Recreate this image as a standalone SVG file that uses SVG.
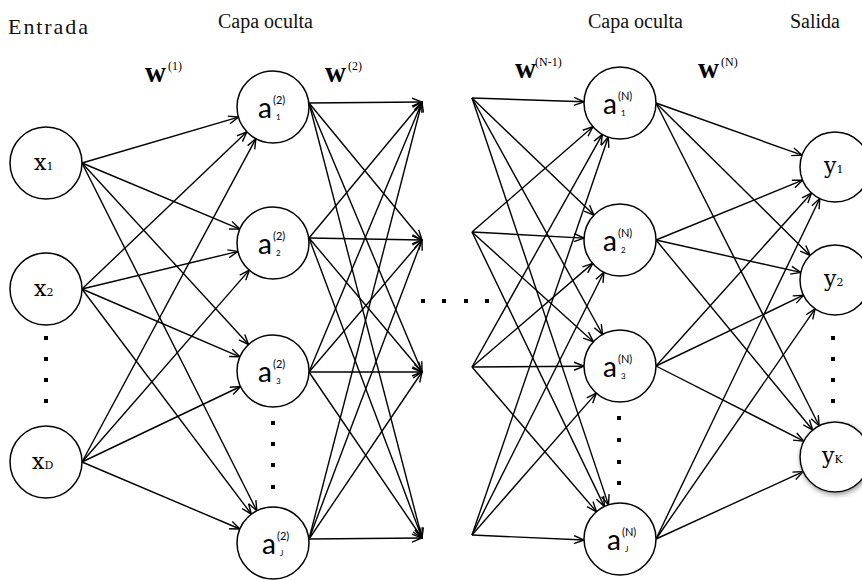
<svg xmlns="http://www.w3.org/2000/svg" width="862" height="580" viewBox="0 0 862 580">
<style>
.head{font-family:"Liberation Serif",serif;font-size:20px;fill:#111}
.node{fill:#fff;stroke:#000;stroke-width:1.5}
.xl{font-family:"DejaVu Serif","Liberation Serif",serif;font-size:22px;fill:#000}
.sub{font-size:11px}
.al{font-family:Lato,"Liberation Sans",sans-serif;font-size:28px;fill:#000}
.sup{font-family:Lato,"Liberation Sans",sans-serif;font-size:11px;fill:#000}
.sb{font-family:Lato,"Liberation Sans",sans-serif;font-size:8px;fill:#000}
.wl{font-family:"Liberation Serif",serif;font-weight:bold;font-size:29px;fill:#000}
.ws{font-family:"Liberation Serif",serif;font-size:12px;fill:#000}
.c line{stroke:#000;stroke-width:1.4;marker-end:url(#arr)}
.dot{fill:#000}
</style>
<defs>
<marker id="arr" viewBox="0 0 12 10" refX="11" refY="5" markerWidth="12" markerHeight="10" markerUnits="userSpaceOnUse" orient="auto">
<path d="M1,1 L11,5 L1,9" fill="none" stroke="#000" stroke-width="1.4"/>
</marker>
<filter id="sh" x="-30%" y="-30%" width="160%" height="160%">
<feDropShadow dx="1" dy="2" stdDeviation="2.5" flood-color="#777" flood-opacity="0.8"/>
</filter>
</defs>

<g id="headings">
<text class="head" x="8" y="34" style="font-size:22px" textLength="80">Entrada</text>
<text class="head" x="218" y="28">Capa oculta</text>
<text class="head" x="588" y="28">Capa oculta</text>
<text class="head" x="790" y="28">Salida</text>
</g>

<g id="weights">
<text class="wl" x="145" y="82">w</text><text class="ws" x="168" y="70">(1)</text>
<text class="wl" x="325" y="82">w</text><text class="ws" x="348" y="70">(2)</text>
<text class="wl" x="515" y="78">w</text><text class="ws" x="535" y="66">(N-1)</text>
<text class="wl" x="698" y="78">w</text><text class="ws" x="721" y="66">(N)</text>
</g>

<g class="c" id="connectors">
<line x1="82" y1="163" x2="238.5" y2="117.1"/>
<line x1="82" y1="163" x2="239.8" y2="229.1"/>
<line x1="82" y1="163" x2="248.6" y2="344.5"/>
<line x1="82" y1="163" x2="256.8" y2="510.8"/>
<line x1="82" y1="289" x2="246.9" y2="131.8"/>
<line x1="82" y1="289" x2="238.0" y2="251.4"/>
<line x1="82" y1="289" x2="239.9" y2="356.8"/>
<line x1="82" y1="289" x2="251.4" y2="514.2"/>
<line x1="82" y1="462" x2="255.9" y2="138.7"/>
<line x1="82" y1="462" x2="249.3" y2="270.1"/>
<line x1="82" y1="462" x2="240.5" y2="386.5"/>
<line x1="82" y1="462" x2="239.9" y2="529.0"/>
<line x1="309" y1="103" x2="422" y2="102"/>
<line x1="309" y1="103" x2="422" y2="240"/>
<line x1="309" y1="103" x2="422" y2="372"/>
<line x1="309" y1="103" x2="422" y2="538"/>
<line x1="309" y1="238" x2="422" y2="102"/>
<line x1="309" y1="238" x2="422" y2="240"/>
<line x1="309" y1="238" x2="422" y2="372"/>
<line x1="309" y1="238" x2="422" y2="538"/>
<line x1="309" y1="372" x2="422" y2="102"/>
<line x1="309" y1="372" x2="422" y2="240"/>
<line x1="309" y1="372" x2="422" y2="372"/>
<line x1="309" y1="372" x2="422" y2="538"/>
<line x1="309" y1="539" x2="422" y2="102"/>
<line x1="309" y1="539" x2="422" y2="240"/>
<line x1="309" y1="539" x2="422" y2="372"/>
<line x1="309" y1="539" x2="422" y2="538"/>
<line x1="472" y1="98" x2="584.0" y2="101.8"/>
<line x1="472" y1="98" x2="594.0" y2="215.1"/>
<line x1="472" y1="98" x2="602.6" y2="334.5"/>
<line x1="472" y1="98" x2="608.5" y2="504.9"/>
<line x1="472" y1="232" x2="592.9" y2="126.7"/>
<line x1="472" y1="232" x2="584.0" y2="238.1"/>
<line x1="472" y1="232" x2="593.3" y2="341.8"/>
<line x1="472" y1="232" x2="604.4" y2="506.6"/>
<line x1="472" y1="367" x2="602.4" y2="134.4"/>
<line x1="472" y1="367" x2="592.7" y2="263.4"/>
<line x1="472" y1="367" x2="584.0" y2="366.2"/>
<line x1="472" y1="367" x2="596.5" y2="511.7"/>
<line x1="472" y1="535" x2="608.3" y2="137.1"/>
<line x1="472" y1="535" x2="603.9" y2="272.2"/>
<line x1="472" y1="535" x2="596.3" y2="393.1"/>
<line x1="472" y1="535" x2="584.0" y2="540.0"/>
<line x1="656" y1="103" x2="802.0" y2="155.2"/>
<line x1="656" y1="103" x2="810.1" y2="255.4"/>
<line x1="656" y1="103" x2="819.2" y2="425.8"/>
<line x1="656" y1="240" x2="802.6" y2="180.2"/>
<line x1="656" y1="240" x2="800.8" y2="272.4"/>
<line x1="656" y1="240" x2="812.7" y2="430.0"/>
<line x1="656" y1="366" x2="811.6" y2="193.0"/>
<line x1="656" y1="366" x2="803.5" y2="295.2"/>
<line x1="656" y1="366" x2="803.8" y2="441.1"/>
<line x1="656" y1="539" x2="819.8" y2="198.5"/>
<line x1="656" y1="539" x2="815.1" y2="308.8"/>
<line x1="656" y1="539" x2="803.2" y2="471.6"/>
</g>

<g id="x1"><circle class="node" cx="46" cy="163" r="36"/><text class="xl" x="34" y="170">x<tspan class="sub">1</tspan></text></g>
<g id="x2"><circle class="node" cx="46" cy="289" r="36"/><text class="xl" x="34" y="296">x<tspan class="sub">2</tspan></text></g>
<g id="xD"><circle class="node" cx="46" cy="462" r="36"/><text class="xl" x="32" y="469">x<tspan class="sub">D</tspan></text></g>
<g id="xdots"><rect class="dot" x="44" y="336" width="4" height="4"/><rect class="dot" x="44" y="357" width="4" height="4"/><rect class="dot" x="44" y="378" width="4" height="4"/><rect class="dot" x="44" y="399" width="4" height="4"/></g>

<g id="a1_2"><circle class="node" cx="273" cy="107" r="36"/><text class="al" x="258" y="118">a</text><text class="sup" x="273" y="104">(2)</text><text class="sb" x="276" y="120">1</text></g>
<g id="a2_2"><circle class="node" cx="273" cy="243" r="36"/><text class="al" x="258" y="254">a</text><text class="sup" x="273" y="240">(2)</text><text class="sb" x="276" y="256">2</text></g>
<g id="a3_2"><circle class="node" cx="273" cy="371" r="36"/><text class="al" x="258" y="382">a</text><text class="sup" x="273" y="368">(2)</text><text class="sb" x="276" y="384">3</text></g>
<g id="aJ_2"><circle class="node" cx="273" cy="543" r="36"/><text class="al" x="262" y="554">a</text><text class="sup" x="277" y="540">(2)</text><text class="sb" x="280" y="556">J</text></g>
<g id="adots2"><rect class="dot" x="271" y="421" width="4" height="4"/><rect class="dot" x="271" y="442" width="4" height="4"/><rect class="dot" x="271" y="463" width="4" height="4"/><rect class="dot" x="271" y="485" width="4" height="4"/></g>

<g id="middots"><rect class="dot" x="421" y="299" width="4" height="4"/><rect class="dot" x="442" y="299" width="4" height="4"/><rect class="dot" x="464" y="299" width="4" height="4"/><rect class="dot" x="485" y="299" width="4" height="4"/></g>

<g id="a1_N"><circle class="node" cx="620" cy="103" r="36"/><text class="al" x="603" y="114">a</text><text class="sup" x="618" y="100">(N)</text><text class="sb" x="621" y="116">1</text></g>
<g id="a2_N"><circle class="node" cx="620" cy="240" r="36"/><text class="al" x="603" y="251">a</text><text class="sup" x="618" y="237">(N)</text><text class="sb" x="621" y="253">2</text></g>
<g id="a3_N"><circle class="node" cx="620" cy="366" r="36"/><text class="al" x="603" y="377">a</text><text class="sup" x="618" y="363">(N)</text><text class="sb" x="621" y="379">3</text></g>
<g id="aJ_N"><circle class="node" cx="620" cy="539" r="36"/><text class="al" x="607" y="550">a</text><text class="sup" x="622" y="536">(N)</text><text class="sb" x="625" y="552">J</text></g>
<g id="adotsN"><rect class="dot" x="617" y="416" width="4" height="4"/><rect class="dot" x="617" y="438" width="4" height="4"/><rect class="dot" x="617" y="460" width="4" height="4"/><rect class="dot" x="617" y="481" width="4" height="4"/></g>

<g id="y1"><circle class="node" cx="835" cy="167" r="35"/><text class="xl" x="824" y="173">y<tspan class="sub">1</tspan></text></g>
<g id="y2"><circle class="node" cx="835" cy="280" r="35"/><text class="xl" x="824" y="286">y<tspan class="sub">2</tspan></text></g>
<g id="yK"><circle class="node" cx="835" cy="457" r="35" filter="url(#sh)"/><text class="xl" x="822" y="463">y<tspan class="sub">K</tspan></text></g>
<g id="ydots"><rect class="dot" x="831" y="336" width="4" height="4"/><rect class="dot" x="831" y="357" width="4" height="4"/><rect class="dot" x="831" y="378" width="4" height="4"/><rect class="dot" x="831" y="399" width="4" height="4"/></g>
</svg>
